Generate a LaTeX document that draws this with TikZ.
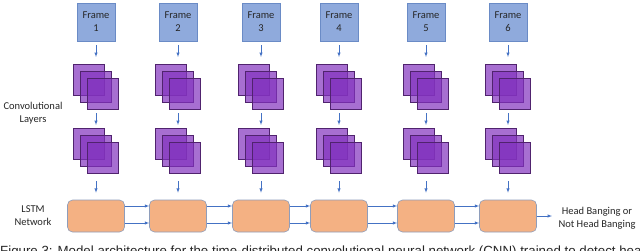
\documentclass[tikz,border=0pt]{standalone}
\usepackage{fontspec}
\setmainfont{Carlito}
\newfontfamily\capfont{Liberation Sans}
\definecolor{framefill}{HTML}{8FAADC}
\definecolor{frameline}{HTML}{6A8BC6}
\definecolor{convfill}{RGB}{130,50,190}
\definecolor{convline}{RGB}{80,35,110}
\definecolor{lstmfill}{HTML}{F4B183}
\definecolor{lstmline}{HTML}{8E9DBB}
\definecolor{arrowblue}{HTML}{4472C4}
\begin{document}
\begin{tikzpicture}[x=1pt,y=-1pt,>=latex,
  font=\fontsize{10.5}{13}\selectfont,text=black!85,
  framebox/.style={draw=frameline,fill=framefill,minimum size=38pt,inner sep=0pt,align=center},
  convbox/.style={draw=convline,fill=convfill,fill opacity=0.7,minimum size=31pt,inner sep=0pt,line width=0.6pt},
  lstmbox/.style={draw=lstmline,fill=lstmfill,rounded corners=5pt,minimum width=57pt,minimum height=32pt,line width=0.6pt},
  feed/.style={->,draw=arrowblue,line width=0.5pt}]
\useasboundingbox (0,0) rectangle (640,250);
\clip (0,0) rectangle (640,250);

% one column per frame
\foreach \i/\x in {1/96,2/178,3/261,4/339,5/426,6/508} {
  \node[framebox] (f\i) at (\x,22) {Frame\\\i};
  \foreach \d [count=\n] in {-7.25,0,7.25} {
    \node[convbox] (a\i-\n) at (\x+\d,87+\d) {};
  }
  \foreach \d [count=\n] in {-7.25,0,7.25} {
    \node[convbox] (b\i-\n) at (\x+\d,151+\d) {};
  }
  \node[lstmbox] (l\i) at (\x,216) {};

  \draw[feed,shorten <=4pt,shorten >=7pt] (f\i.south) -- (f\i.south |- a\i-1.north);
  \draw[feed,shorten <=3pt,shorten >=3pt] (f\i.south |- a\i-3.south) -- (f\i.south |- b\i-1.north);
  \draw[feed,shorten <=7pt,shorten >=7pt] (f\i.south |- b\i-3.south) -- (l\i.north);
}

% recurrent links
\foreach \i/\j in {1/2,2/3,3/4,4/5,5/6} {
  \draw[feed] ([yshift=10pt]l\i.east) -- ([yshift=10pt]l\j.west);
  \draw[feed] ([yshift=-7pt]l\i.east) -- ([yshift=-7pt]l\j.west);
}

\node[align=center] (conv) at (33,113) {Convolutional\\Layers};
\node[align=center] (lstm) at (33,216) {LSTM\\Network};
\node[align=center] (out) at (597,218) {Head Banging or\\Not Head Banging};
\draw[feed,shorten >=3pt] (l6.east) -- (l6.east -| out.west);

\node[anchor=base west,inner sep=0pt,font=\capfont\fontsize{13.3}{15}\selectfont] (cap) at (0,255)
  {Figure 3: Model architecture for the time-distributed convolutional neural network (CNN) trained to detect head banging};
\end{tikzpicture}
\end{document}
